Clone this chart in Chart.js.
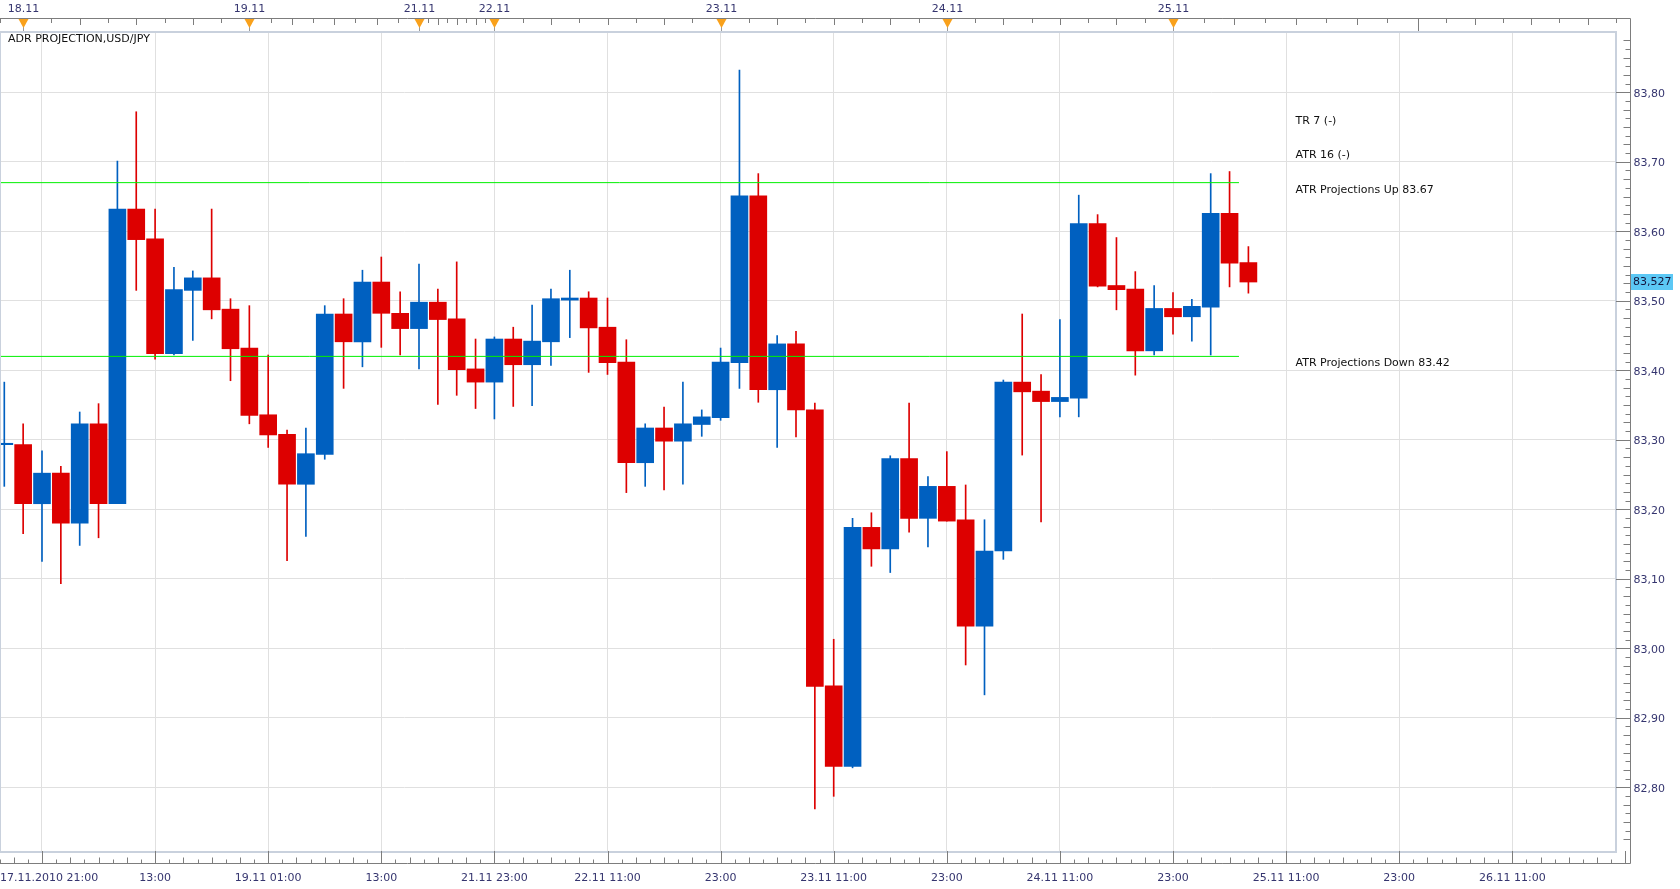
<!DOCTYPE html>
<html><head><meta charset="utf-8">
<script src="https://cdn.jsdelivr.net/npm/chart.js@4.4.1/dist/chart.umd.min.js"></script>
<style>html,body{margin:0;padding:0;background:#fff;overflow:hidden}canvas{display:block}</style>
</head><body>
<canvas id="c" width="1680" height="889"></canvas>
<script>
// ---- data ----
const candleOpen  = [83.293,83.293,83.208,83.252,83.180,83.323,83.208,83.632,83.589,83.424,83.515,83.533,83.488,83.432,83.336,83.308,83.236,83.279,83.481,83.441,83.527,83.482,83.460,83.498,83.474,83.402,83.383,83.445,83.408,83.441,83.501,83.504,83.462,83.412,83.267,83.317,83.298,83.322,83.332,83.411,83.651,83.372,83.438,83.343,82.946,82.830,83.174,83.143,83.273,83.187,83.233,83.185,83.032,83.140,83.383,83.370,83.355,83.360,83.611,83.522,83.517,83.428,83.489,83.477,83.491,83.626,83.555];
const candleHigh  = [83.383,83.323,83.284,83.262,83.340,83.352,83.701,83.772,83.632,83.548,83.543,83.632,83.503,83.493,83.422,83.314,83.317,83.493,83.503,83.544,83.563,83.513,83.553,83.517,83.556,83.445,83.448,83.462,83.494,83.517,83.544,83.513,83.504,83.444,83.323,83.347,83.383,83.343,83.432,83.832,83.683,83.450,83.456,83.353,83.013,83.187,83.195,83.277,83.353,83.247,83.283,83.235,83.185,83.386,83.481,83.394,83.473,83.652,83.624,83.591,83.542,83.522,83.512,83.502,83.683,83.686,83.578];
const candleLow   = [83.233,83.165,83.125,83.093,83.148,83.159,83.208,83.515,83.416,83.422,83.443,83.474,83.385,83.323,83.289,83.126,83.161,83.272,83.374,83.405,83.433,83.422,83.402,83.351,83.364,83.345,83.330,83.348,83.349,83.407,83.447,83.397,83.394,83.224,83.233,83.228,83.236,83.305,83.328,83.374,83.354,83.289,83.304,82.769,82.787,82.828,83.118,83.109,83.167,83.146,83.183,82.976,82.933,83.128,83.278,83.182,83.333,83.333,83.520,83.487,83.393,83.422,83.452,83.442,83.422,83.520,83.511];
const candleClose = [83.295,83.208,83.252,83.180,83.323,83.208,83.632,83.588,83.424,83.516,83.533,83.487,83.431,83.335,83.307,83.236,83.280,83.481,83.441,83.527,83.482,83.460,83.498,83.473,83.401,83.383,83.445,83.408,83.442,83.503,83.504,83.461,83.411,83.267,83.317,83.298,83.323,83.333,83.412,83.651,83.372,83.438,83.343,82.945,82.830,83.174,83.143,83.273,83.187,83.233,83.183,83.032,83.140,83.383,83.369,83.355,83.361,83.611,83.521,83.516,83.428,83.489,83.477,83.492,83.626,83.554,83.527];

const xTickIndex  = [2,8,14,20,26,32,38,44,50,56,62,68,74,80];
const xTickLabels = ['17.11.2010 21:00','13:00','19.11 01:00','13:00','21.11 23:00','22.11 11:00','23:00','23.11 11:00','23:00','24.11 11:00','23:00','25.11 11:00','23:00','26.11 11:00'];
const dayMarkIndex  = [1,13,22,26,38,50,62];
const dayMarkLabels = ['18.11','19.11','21.11','22.11','23.11','24.11','25.11'];
const daySegments   = [1,13,22,26,38,50,62,75,87];
const yTickValues = [82.8,82.9,83.0,83.1,83.2,83.3,83.4,83.5,83.6,83.7,83.8];
const yTickLabels = ['82,80','82,90','83,00','83,10','83,20','83,30','83,40','83,50','83,60','83,70','83,80'];
const atrUp = 83.67, atrDown = 83.42, atrLineEnd = 65.5;
const lastPrice = 83.527, lastPriceLabel = '83,527';
const chartTitle = 'ADR PROJECTION,USD/JPY';
const legendTexts = ['TR 7 (-)','ATR 16 (-)','ATR Projections Up 83.67'];
const downText = 'ATR Projections Down 83.42';

// ---- styles ----
const UP = '#0060c0', DOWN = '#dd0000';
const FONT = '11px "DejaVu Sans", Verdana, sans-serif';
const AXIS_TXT = '#35356f';
const X_MIN = -0.175, X_MAX = 85.448, Y_MIN = 82.70834, Y_MAX = 83.88532;

const idx = candleOpen.map((_, i) => i);
const colors = idx.map(i => candleClose[i] >= candleOpen[i] ? UP : DOWN);
const bodies = idx.map(i => ({x: i, y: [candleOpen[i], candleClose[i]]}));
const wicks = idx.map(i => ({x: i, y: [candleLow[i], candleHigh[i]]}));

const decor = {
  id: 'decor',
  beforeDraw(chart) {
    const ctx = chart.ctx;
    ctx.save();
    ctx.fillStyle = '#fff';
    ctx.fillRect(0, 0, chart.width, chart.height);
    ctx.restore();
  },
  afterDraw(chart) {
    const ctx = chart.ctx, ca = chart.chartArea;
    const xs = chart.scales.x, ys = chart.scales.y;
    const px = v => xs.getPixelForValue(v);
    const py = v => ys.getPixelForValue(v);
    ctx.save();
    // plot border
    ctx.fillStyle = '#c9d1dd';
    ctx.fillRect(0, ca.top - 2, ca.right + 2, 2);
    ctx.fillRect(0, ca.bottom, ca.right + 2, 2);
    ctx.fillRect(ca.right, ca.top - 2, 2, ca.bottom - ca.top + 4);
    ctx.fillRect(0, ca.top - 2, 1, ca.bottom - ca.top + 4);
    // outer frame
    const AX_R = 1630.5, AX_T = 18.5, AX_B = 863.5;
    ctx.strokeStyle = '#7d7d7d'; ctx.lineWidth = 1;
    ctx.beginPath();
    ctx.moveTo(0, AX_T); ctx.lineTo(AX_R, AX_T); ctx.lineTo(AX_R, AX_B); ctx.lineTo(0, AX_B);
    ctx.stroke();
    // top ticks
    ctx.beginPath();
    ctx.moveTo(0.5, AX_T); ctx.lineTo(0.5, 23);
    for (let s = 0; s < daySegments.length - 1; s++) {
      const a = daySegments[s], b = daySegments[s + 1];
      for (let k = 1; k < 8; k++) {
        const x = Math.round(px(a + k * (b - a) / 8)) + 0.5;
        if (x < 0 || x > AX_R) continue;
        ctx.moveTo(x, AX_T); ctx.lineTo(x, k % 2 ? 23 : 25);
      }
    }
    // unlabeled day boundary
    const xu = Math.round(px(75)) + 0.5;
    ctx.moveTo(xu, AX_T); ctx.lineTo(xu, ca.top - 2);
    ctx.stroke();
    // day markers
    ctx.font = FONT; ctx.textBaseline = 'middle'; ctx.textAlign = 'center';
    dayMarkIndex.forEach((d, i) => {
      const x = Math.round(px(d)) + 0.5;
      ctx.strokeStyle = '#9a9a9a';
      ctx.beginPath(); ctx.moveTo(x, 26); ctx.lineTo(x, ca.top - 2); ctx.stroke();
      ctx.fillStyle = '#f9a11b';
      ctx.beginPath(); ctx.moveTo(x - 5, 19); ctx.lineTo(x + 5, 19); ctx.lineTo(x, 28); ctx.closePath(); ctx.fill();
      ctx.fillStyle = AXIS_TXT;
      ctx.fillText(dayMarkLabels[i], x, 9);
    });
    // bottom ticks
    ctx.strokeStyle = '#7d7d7d';
    ctx.beginPath();
    for (let m = 0; m <= 86 / 0.75 + 2; m++) {
      const v = 2 - 0.75 * 3 + 0.75 * m;
      const x = Math.round(px(v)) + 0.5;
      if (x < 0 || x > AX_R) continue;
      const k = ((m - 3) % 8 + 8) % 8;
      const top = k === 0 ? ca.bottom : (k % 2 ? AX_B - 4 : AX_B - 6);
      ctx.moveTo(x, top); ctx.lineTo(x, AX_B);
    }
    ctx.stroke();
    // bottom labels
    ctx.fillStyle = AXIS_TXT;
    xTickIndex.forEach((t, i) => {
      const x = px(t), w = ctx.measureText(xTickLabels[i]).width;
      let lx = x - w / 2;
      if (lx < 0) lx = 0;
      ctx.textAlign = 'left';
      ctx.fillText(xTickLabels[i], lx, 878.5);
    });
    // right ticks
    ctx.beginPath();
    for (let m = -20; m <= 120; m++) {
      const v = 82.7 + 0.0125 * m;
      const y = Math.round(py(v)) + 0.5;
      if (y < 36 || y > 848) continue;
      const k = ((m % 8) + 8) % 8;
      const left = k === 0 ? ca.right + 1 : (k % 2 ? AX_R - 5 : AX_R - 7);
      ctx.moveTo(left, y); ctx.lineTo(AX_R, y);
    }
    ctx.stroke();
    // right labels
    ctx.textAlign = 'left';
    yTickValues.forEach((v, i) => {
      ctx.fillText(yTickLabels[i], 1633.5, py(v) + 1.5);
    });
    // last price box
    const yl = py(lastPrice);
    ctx.fillStyle = '#5cc8f5';
    ctx.fillRect(1631, Math.round(yl) - 8, 42, 16);
    ctx.fillStyle = '#14143c';
    ctx.fillText(lastPriceLabel, 1633, yl + 0.5);
    // texts
    ctx.fillStyle = '#111';
    ctx.fillText(chartTitle, 8, 39);
    const tx = 1295.5;
    const yUp = py(atrUp), yDn = py(atrDown);
    legendTexts.forEach((t, i) => {
      ctx.fillText(t, tx, yUp + 7 - (2 - i) * 34.5);
    });
    ctx.fillText(downText, tx, yDn + 7);
    ctx.restore();
  }
};

new Chart(document.getElementById('c'), {
  type: 'bar',
  data: {
    datasets: [
      {type: 'line', data: [{x: X_MIN - 1, y: atrUp}, {x: atrLineEnd, y: atrUp}], borderColor: '#00f000', borderWidth: 1, pointRadius: 0, order: 0},
      {type: 'line', data: [{x: X_MIN - 1, y: atrDown}, {x: atrLineEnd, y: atrDown}], borderColor: '#00f000', borderWidth: 1, pointRadius: 0, order: 1},
      {data: bodies, backgroundColor: colors, barThickness: 17, grouped: false, minBarLength: 1, borderWidth: 0, order: 2},
      {data: wicks, backgroundColor: colors, barThickness: 1, grouped: false, borderWidth: 0, order: 3}
    ]
  },
  options: {
    responsive: false,
    animation: false,
    devicePixelRatio: 1,
    layout: {padding: {left: 1, top: 33, right: 65, bottom: 38}},
    plugins: {legend: {display: false}, tooltip: {enabled: false}},
    scales: {
      x: {
        type: 'linear', min: X_MIN, max: X_MAX, offset: false,
        afterBuildTicks: s => { s.ticks = xTickIndex.map(v => ({value: v})); },
        ticks: {display: false},
        grid: {color: '#e0e0e0', drawTicks: false, lineWidth: 1, offset: false},
        border: {display: false}
      },
      y: {
        type: 'linear', min: Y_MIN, max: Y_MAX, position: 'right',
        afterBuildTicks: s => { s.ticks = yTickValues.map(v => ({value: v})); },
        ticks: {display: false},
        grid: {color: '#e0e0e0', drawTicks: false, lineWidth: 1},
        border: {display: false}
      }
    }
  },
  plugins: [decor]
});
</script>
</body></html>
